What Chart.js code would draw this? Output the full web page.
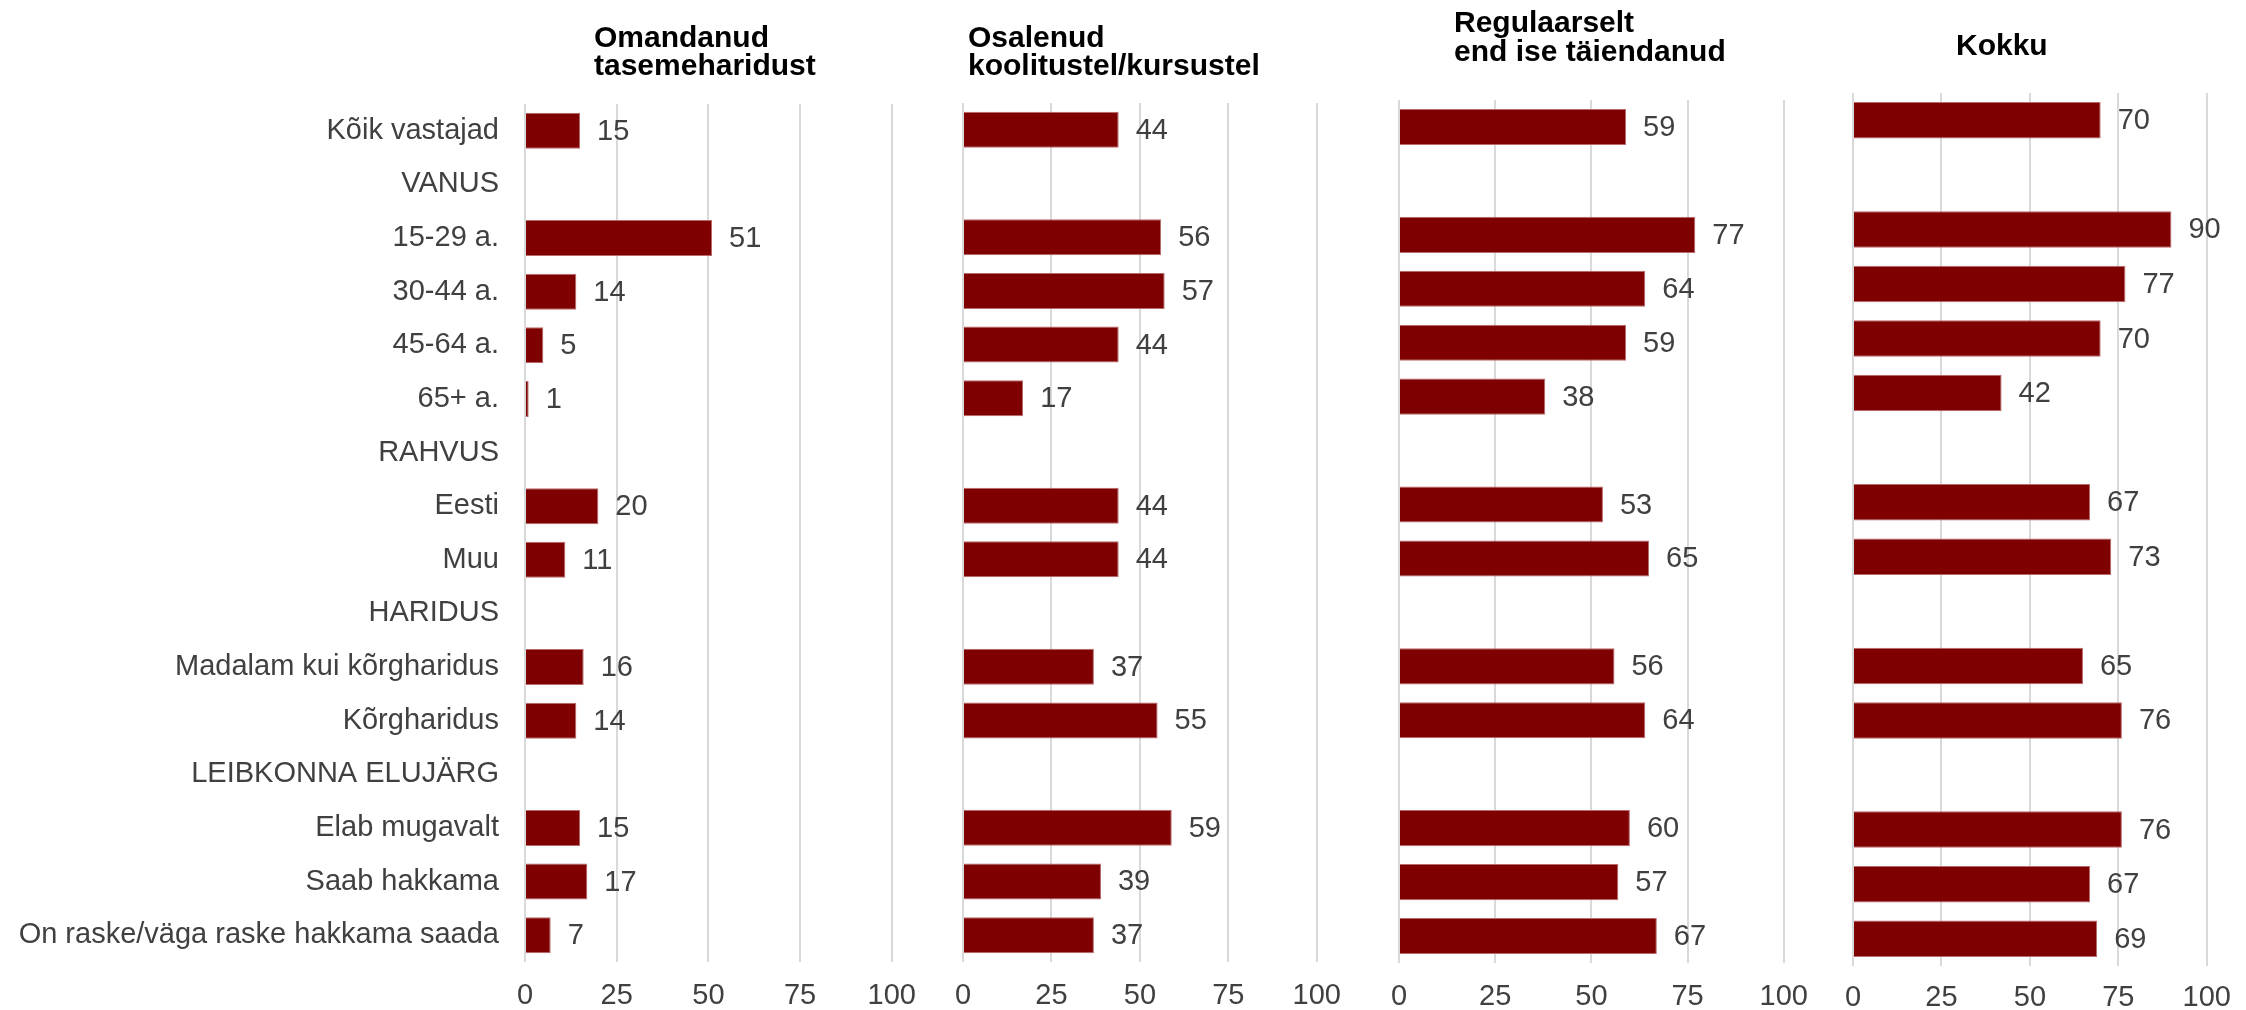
<!DOCTYPE html>
<html lang="et">
<head>
  <meta charset="UTF-8" />
  <title>Täiendõpe</title>
  <script src="https://cdn.jsdelivr.net/npm/chart.js"></script>
  <style>
    body {
      margin: 0;
      background: #fff;
    }
    #wrap {
      position: relative;
      width: 2246px;
      height: 1010px;
      overflow: hidden;
    }
    canvas {
      position: absolute;
      top: 0;
    }
  </style>
</head>
<body>
  <div id="wrap">
    <canvas id="c1"></canvas>
    <canvas id="c2"></canvas>
    <canvas id="c3"></canvas>
    <canvas id="c4"></canvas>
  </div>

  <script>
    // Andmed
    const categories = [
      'Kõik vastajad', 'VANUS', '15-29 a.', '30-44 a.', '45-64 a.', '65+ a.',
      'RAHVUS', 'Eesti', 'Muu', 'HARIDUS', 'Madalam kui kõrgharidus', 'Kõrgharidus',
      'LEIBKONNA ELUJÄRG', 'Elab mugavalt', 'Saab hakkama', 'On raske/väga raske hakkama saada'
    ];
    const omandanud  = [15, null, 51, 14, 5, 1, null, 20, 11, null, 16, 14, null, 15, 17, 7];
    const osalenud   = [44, null, 56, 57, 44, 17, null, 44, 44, null, 37, 55, null, 59, 39, 37];
    const taiendanud = [59, null, 77, 64, 59, 38, null, 53, 65, null, 56, 64, null, 60, 57, 67];
    const kokku      = [70, null, 90, 77, 70, 42, null, 67, 73, null, 65, 76, null, 76, 67, 69];

    const titles = [
      ['Omandanud', 'tasemeharidust'],
      ['Osalenud', 'koolitustel/kursustel'],
      ['Regulaarselt', 'end ise täiendanud'],
      ['Kokku']
    ];
    const xMin = 0, xMax = 100, xStep = 25;

    const FONT = '"Liberation Sans", Arial, sans-serif';
    const TEXT = '#404040';
    const BAR = '#7f0000';

    // Paneelide paigutus (px)
    const panels = [
      { id: 'c1', data: omandanud,  title: titles[0], left: 0,    width: 933, padL: 0,  padR: 40, top: 104, bottom: 962, yWidth: 525, titleX: 594,  titleY: [39, 67], tickPad: 17 },
      { id: 'c2', data: osalenud,   title: titles[1], left: 933,  width: 425, padL: 30, padR: 40, top: 103, bottom: 962, titleX: 968,  titleY: [39, 67], tickPad: 17 },
      { id: 'c3', data: taiendanud, title: titles[2], left: 1369, width: 456, padL: 30, padR: 40, top: 100, bottom: 963, titleX: 1454, titleY: [24, 53], tickPad: 17 },
      { id: 'c4', data: kokku,      title: titles[3], left: 1823, width: 423, padL: 30, padR: 30, top: 93,  bottom: 966, titleX: 1956, titleY: [47],     tickPad: 15 }
    ];

    // Väärtused tulpade kõrvale
    const valueLabels = {
      id: 'valueLabels',
      afterDatasetsDraw(chart) {
        const ctx = chart.ctx;
        const vals = chart.data.datasets[0].data;
        ctx.save();
        ctx.font = '29px ' + FONT;
        ctx.fillStyle = TEXT;
        ctx.textAlign = 'left';
        ctx.textBaseline = 'middle';
        chart.getDatasetMeta(0).data.forEach((bar, i) => {
          if (vals[i] == null) return;
          ctx.fillText(String(vals[i]), bar.x + 17, bar.y + 1);
        });
        ctx.restore();
      }
    };

    // Paneeli pealkiri (kaks rida, vasakjoondus)
    const panelTitle = {
      id: 'panelTitle',
      afterDraw(chart, args, opts) {
        const ctx = chart.ctx;
        ctx.save();
        ctx.font = 'bold 30px ' + FONT;
        ctx.fillStyle = '#000';
        ctx.textAlign = 'left';
        ctx.textBaseline = 'middle';
        opts.lines.forEach((line, i) => ctx.fillText(line, opts.x, opts.y[i]));
        ctx.restore();
      }
    };

    function createChart(p) {
      const canvas = document.getElementById(p.id);
      canvas.width = p.width;
      canvas.height = 1010;
      canvas.style.left = p.left + 'px';
      const showY = p.id === 'c1';
      return new Chart(canvas.getContext('2d'), {
        type: 'bar',
        data: {
          labels: categories,
          datasets: [{
            data: p.data,
            backgroundColor: BAR,
            borderColor: '#b86a6a',
            borderWidth: 1,
            barPercentage: 0.67,
            categoryPercentage: 1
          }]
        },
        options: {
          indexAxis: 'y',
          responsive: false,
          animation: false,
          devicePixelRatio: 1,
          layout: { padding: { top: p.top, bottom: 0, left: p.padL, right: p.padR } },
          scales: {
            x: {
              min: xMin,
              max: xMax,
              grid: { color: '#d9d9d9', lineWidth: 2, drawTicks: false },
              border: { display: false },
              ticks: {
                stepSize: xStep,
                padding: p.tickPad,
                color: TEXT,
                font: { family: FONT, size: 29 }
              },
              afterFit(s) { s.height = 1010 - p.bottom; }
            },
            y: {
              display: showY,
              grid: { display: false, drawTicks: false },
              border: { display: false },
              ticks: {
                padding: 26,
                color: TEXT,
                font: { family: FONT, size: 29 }
              },
              afterFit(s) { if (showY) s.width = p.yWidth; }
            }
          },
          plugins: {
            legend: { display: false },
            tooltip: { enabled: false },
            panelTitle: { lines: p.title, x: p.titleX - p.left, y: p.titleY }
          }
        },
        plugins: [valueLabels, panelTitle]
      });
    }

    panels.forEach(createChart);
  </script>
</body>
</html>
